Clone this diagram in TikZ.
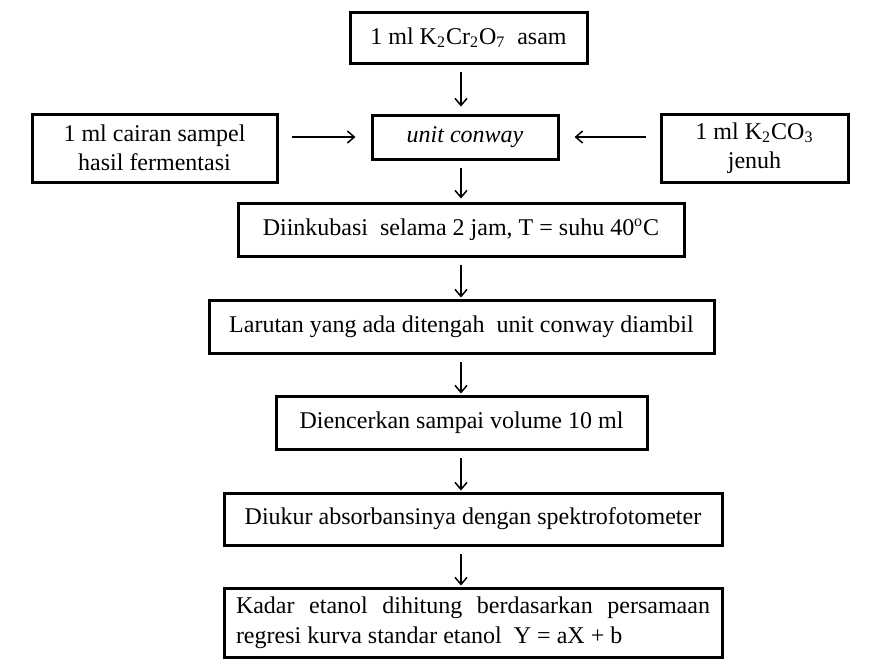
\documentclass[tikz,border=0pt]{standalone}
\usepackage{fontspec}
\setmainfont{Liberation Serif}
\usetikzlibrary{arrows.meta}
\usetikzlibrary{positioning}
\setlength{\parindent}{0pt}
\tikzset{box/.style = {draw, line width = 1.5pt, inner sep = 0, align = center,
                       font = \fontsize{12}{14.5}\selectfont}}
\tikzset{flow/.style = {-{Straight Barb[length = 3.5pt, width = 6pt]}, line width = .75pt,
                        shorten < = 3.5pt, shorten > = .5pt}}

\begin{document}
\begin{tikzpicture}[x = .5pt, y = -.5pt]
      \useasboundingbox (0, 0) rectangle (885, 670);
      \node [box, minimum width = 118.5pt, minimum height = 25.5pt] (asam) at (468.5, 37.5)
            {1 ml K\textsubscript{2}Cr\textsubscript{2}O\textsubscript{7}~ asam};
      \node [box, minimum width = 93pt, minimum height = 22pt] (conway) at (465, 137)
            {\itshape unit conway};
      \node [box, minimum width = 122.5pt, minimum height = 34pt] (sampel) at (154.5, 148)
            {1 ml cairan sampel\\hasil fermentasi};
      \node [box, minimum width = 93.5pt, minimum height = 34pt] (jenuh) at (754.5, 148)
            {1 ml K\textsubscript{2}CO\textsubscript{3}\\jenuh};
      \node [box, minimum width = 223pt, minimum height = 26.5pt] (inkubasi) at (461, 229.5)
            {Diinkubasi~ selama 2 jam, T = suhu 40\textsuperscript{o}C};
      \node [box, minimum width = 252.5pt, minimum height = 26.5pt] (larutan) at (461.5, 326.5)
            {Larutan yang ada ditengah~ unit conway diambil};
      \node [box, minimum width = 185.5pt, minimum height = 26.5pt] (encer) at (461.5, 422.5)
            {Diencerkan sampai volume 10 ml};
      \node [box, minimum width = 249pt, minimum height = 26pt] (ukur) at (473, 519)
            {Diukur absorbansinya dengan spektrofotometer};
      \node [box, minimum width = 249pt, minimum height = 34.5pt, text width = 237pt,
             inner xsep = 6pt, align = justify, font = \fontsize{12}{15}\selectfont] (kadar) at (473, 622.5)
            {Kadar etanol dihitung berdasarkan persamaan\linebreak regresi kurva standar etanol~ Y = aX + b};
      \draw [flow, shorten > = 3.5pt] (asam.south -| inkubasi) -- (conway.north -| inkubasi);
      \draw [flow, shorten < = 6.5pt, shorten > = 7.5pt] (sampel.east |- conway) -- (conway.west);
      \draw [flow, shorten < = 7pt, shorten > = 7.5pt] (jenuh.west |- conway) -- (conway.east);
      \draw [flow, shorten > = 1.5pt] (conway.south -| inkubasi) -- (inkubasi.north);
      \draw [flow] (inkubasi.south) -- (larutan.north -| inkubasi);
      \draw [flow] (larutan.south -| inkubasi) -- (encer.north -| inkubasi);
      \draw [flow] (encer.south -| inkubasi) -- (ukur.north -| inkubasi);
      \draw [flow] (ukur.south -| inkubasi) -- (kadar.north -| inkubasi);
    \end{tikzpicture}
\end{document}
